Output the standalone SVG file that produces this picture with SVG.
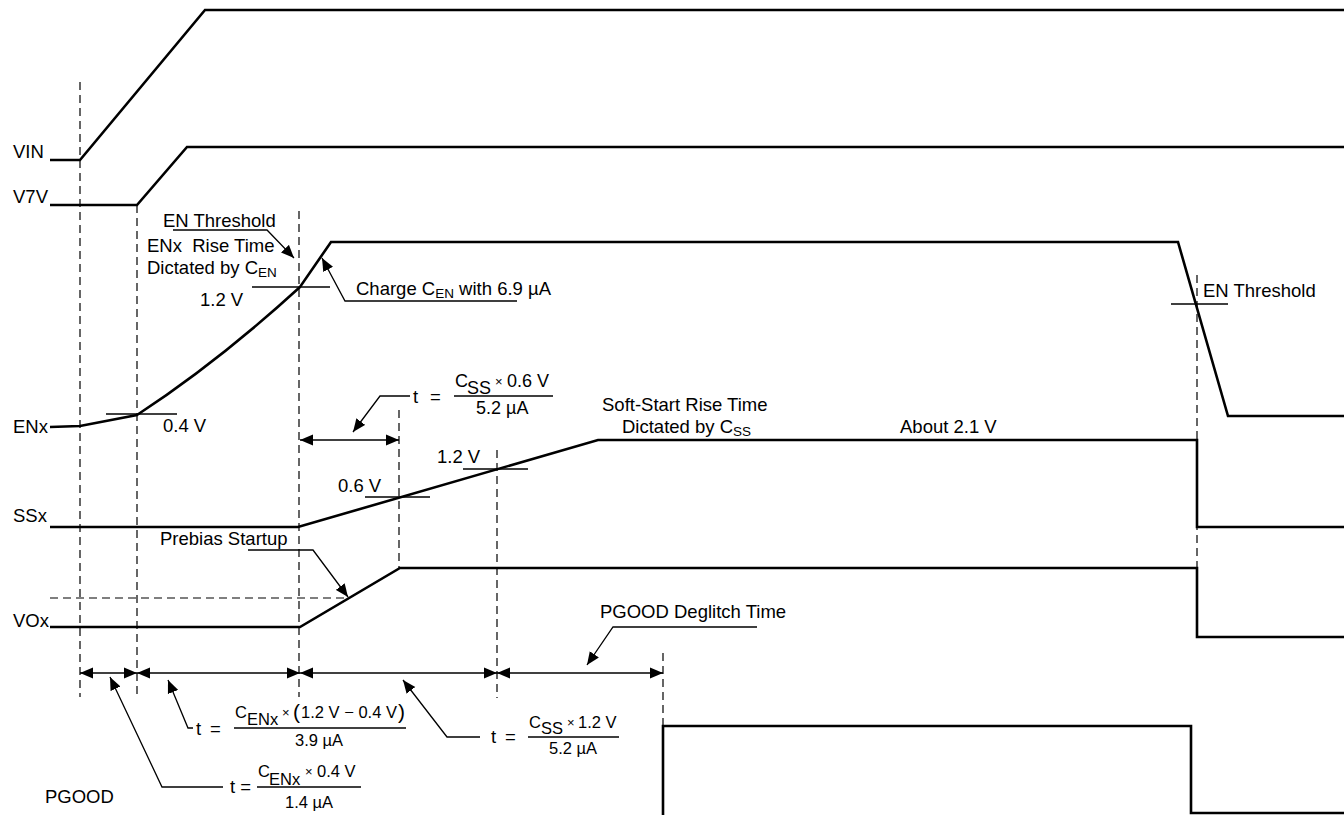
<svg xmlns="http://www.w3.org/2000/svg" width="1344" height="815" viewBox="0 0 1344 815">
<style>
text{font-family:"Liberation Sans",Arial,sans-serif;font-size:18.5px;fill:#000;white-space:pre}
.f16{font-size:16.5px}
.f18{font-size:18px}
.sm{font-size:13.5px}
.x{font-size:13px}
.sig{fill:none;stroke:#000;stroke-width:2.6;stroke-linejoin:miter}
.dash{fill:none;stroke:#000;stroke-width:1.2;stroke-dasharray:8,5}
.thin{fill:none;stroke:#000;stroke-width:1.3}
.arr{fill:none;stroke:#000;stroke-width:1.5;marker-start:url(#ah);marker-end:url(#ah)}
.ldr{fill:none;stroke:#000;stroke-width:1.3;marker-end:url(#ah)}
</style>
<defs>
<marker id="ah" markerUnits="userSpaceOnUse" markerWidth="14" markerHeight="12" refX="13" refY="5.5" orient="auto-start-reverse" viewBox="0 0 14 11">
<path d="M0,0 L13,5.5 L0,11 Z" fill="#000"/>
</marker>
</defs>
<rect width="1344" height="815" fill="#fff"/>

<g id="guides">
<path class="dash" d="M80,82 V697"/>
<path class="dash" d="M137,205 V697"/>
<path class="dash" d="M299,211 V697"/>
<path class="dash" d="M399,410 V568"/>
<path class="dash" d="M497,450 V698"/>
<path class="dash" d="M663,653 V725"/>
<path class="dash" d="M1197,275 V567"/>
<path class="dash" d="M50,598 H348"/>
</g>

<g id="sig-vin">
<text x="13" y="158">VIN</text>
<path class="sig" d="M50,160 L80,160 L205,10 L1344,10"/>
</g>
<g id="sig-v7v">
<text x="13" y="203">V7V</text>
<path class="sig" d="M50,205 L137,205 L187,147 L1344,147"/>
</g>
<g id="sig-enx">
<text x="13" y="433">ENx</text>
<path class="sig" d="M50,427 L80,426 L137,415 Q218,362 300,287 L331,242 L1178,242 L1228,416 L1344,416"/>
</g>
<g id="sig-ssx">
<text x="13" y="522">SSx</text>
<path class="sig" d="M50,527 L298,527 L598,440 L1197,440 L1197,527 L1344,527"/>
</g>
<g id="sig-vox">
<text x="13" y="627">VOx</text>
<path class="sig" d="M50,627 L300,627 L400,568 L1197,568 L1197,637 L1344,637"/>
</g>
<g id="sig-pgood">
<text x="45" y="803">PGOOD</text>
<path class="sig" d="M663,815 L663,726 L1191,726 L1191,813 L1344,813"/>
</g>

<g id="label-en-threshold">
<text x="163" y="227">EN Threshold</text>
<text x="147" y="252">ENx  Rise Time</text>
<text x="147" y="274">Dictated by C<tspan class="sm" dy="3">EN</tspan></text>
</g>
<g id="label-12v">
<text x="200" y="306">1.2 V</text>
<path class="thin" d="M252,287 H330"/>
</g>
<g id="label-04v">
<text x="163" y="432">0.4 V</text>
<path class="thin" d="M106,414 H177"/>
</g>
<g id="label-charge">
<text x="356" y="295">Charge C<tspan class="sm" dy="3">EN</tspan><tspan dy="-3"> with 6.9 µA</tspan></text>
</g>
<g id="label-06v">
<text x="338" y="492">0.6 V</text>
<path class="thin" d="M365,497 H430"/>
</g>
<g id="label-12v-ss">
<text x="437" y="463">1.2 V</text>
<path class="thin" d="M463,469 H528"/>
</g>
<g id="label-softstart">
<text x="602" y="411">Soft-Start Rise Time</text>
<text x="622" y="433">Dictated by C<tspan class="sm" dy="3">SS</tspan></text>
</g>
<g id="label-about">
<text x="900" y="433">About 2.1 V</text>
</g>
<g id="label-en-threshold-right">
<text x="1203" y="297">EN Threshold</text>
<path class="thin" d="M1171,304 H1228"/>
</g>
<g id="label-prebias">
<text x="160" y="545">Prebias Startup</text>
</g>
<g id="label-deglitch">
<text x="600" y="618">PGOOD Deglitch Time</text>
</g>

<g id="formula-ss06">
<text x="413" y="403">t</text>
<text x="430" y="403">=</text>
<text class="f18" x="455" y="387">C</text>
<text class="f18" x="467" y="394">SS</text>
<text class="x" x="495" y="386">×</text>
<text class="f18" x="507" y="387">0.6 V</text>
<path class="thin" d="M454,396 H553"/>
<text class="f18" x="476" y="414">5.2 µA</text>
</g>

<g id="formula-en12">
<text x="196" y="735">t</text>
<text x="210" y="735">=</text>
<text class="f16" x="235" y="718">C</text>
<text class="f16" x="247" y="725">ENx</text>
<text class="x" x="282" y="717">×</text>
<text style="font-size:21px" x="293" y="719">(</text>
<text class="f16" x="301" y="718" textLength="96" lengthAdjust="spacing">1.2 V − 0.4 V</text>
<text style="font-size:21px" x="398" y="719">)</text>
<path class="thin" d="M234,728 H406"/>
<text class="f16" x="295" y="746">3.9 µA</text>
</g>

<g id="formula-en04">
<text x="230" y="793">t =</text>
<text class="f16" x="258" y="777">C</text>
<text class="f16" x="269" y="785">ENx</text>
<text class="x" x="305" y="776">×</text>
<text class="f16" x="317" y="777">0.4 V</text>
<path class="thin" d="M257,787 H361"/>
<text class="f16" x="285" y="808">1.4 µA</text>
</g>

<g id="formula-ss12">
<text x="491" y="743">t</text>
<text x="505" y="743">=</text>
<text class="f16" x="529" y="728">C</text>
<text class="f16" x="541" y="734">SS</text>
<text class="x" x="567" y="727">×</text>
<text class="f16" x="578" y="728">1.2 V</text>
<path class="thin" d="M528,737 H619"/>
<text class="f16" x="549" y="754">5.2 µA</text>
</g>

<g id="connectors">
<path class="ldr" d="M173,230 H267 L294,258"/>
<path class="ldr" d="M517,301 H345 L322,258"/>
<path class="ldr" d="M410,396 H380 L353,432"/>
<path class="ldr" d="M248,550 H313 L348,597"/>
<path class="ldr" d="M757,627 H613 L587,665"/>
<path class="ldr" d="M480,737 H447 L403,680"/>
<path class="ldr" d="M193,728 H188 L168,680"/>
<path class="ldr" d="M223,787 H162 L110,677"/>
<path class="arr" d="M300,440 H399"/>
<path class="arr" d="M80,673 H137"/>
<path class="arr" d="M137,673 H300"/>
<path class="arr" d="M300,673 H497"/>
<path class="arr" d="M497,673 H663"/>
</g>
</svg>
